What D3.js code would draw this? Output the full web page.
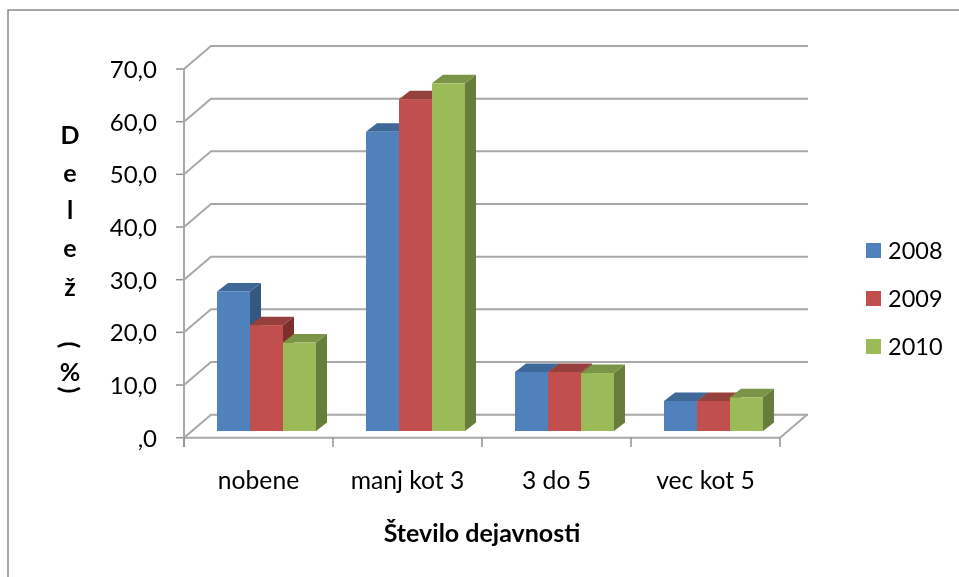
<!DOCTYPE html>
<html><head><meta charset="utf-8">
<script src="https://cdn.jsdelivr.net/npm/d3@7"></script>
<style>html,body{margin:0;padding:0;background:#fff}svg{display:block}text{font-family:Lato,"Open Sans","Noto Sans",sans-serif;fill:#000}</style>
</head><body><svg id="c" width="959" height="577"></svg>
<script>
const categories = ["nobene","manj kot 3","3 do 5","vec kot 5"];
const seriesNames = ["2008","2009","2010"];
const v2008 = [26.5,56.8,11.2,5.7];
const v2009 = [20.1,63.0,11.2,5.7];
const v2010 = [16.8,66.0,11.0,6.4];
const seriesValues = [v2008,v2009,v2010];
const front = ["#4f81bd","#c0504d","#9bbb59"];
const top3 = ["#3e6797","#963f3d","#7a9547"];
const side = ["#355880","#7f2f2e","#667d3b"];
const yTicks = [0,10,20,30,40,50,60,70];
const yTitle = [["D",135],["e",173],["l",210],["e",248],["ž",287],["%",372]];

const svg = d3.select("#c");
const defs = svg.append("defs");
defs.append("filter").attr("id","soft").append("feGaussianBlur").attr("stdDeviation",0.55);
const g = svg.append("g").attr("filter","url(#soft)");

const y = d3.scaleLinear().domain([0,70]).range([437.7,69]);
const x0 = d3.scaleBand().domain(categories).range([184,780]);
const barW = 33, dx = 27, dy = 23, bdx = 11, bdy = 8.5, baseShift = 6.7, barOff = 33;

g.append("rect").attr("x",8).attr("y",10).attr("width",960).attr("height",600)
 .attr("fill","#fff").attr("stroke","#8a8a8a").attr("stroke-width",1.5);

yTicks.forEach(t=>{
  g.append("path").attr("d",`M184,${y(t)}L${184+dx},${y(t)-dy}L${184+dx+597},${y(t)-dy}`)
   .attr("fill","none").attr("stroke","#a8a8a8").attr("stroke-width",2);
  g.append("line").attr("x1",176).attr("x2",184).attr("y1",y(t)).attr("y2",y(t)).attr("stroke","#909090").attr("stroke-width",1.5);
  g.append("text").attr("x",157).attr("y",y(t)+9).attr("text-anchor","end").attr("font-size",24).text((t?t:"")+",0");
});
g.append("line").attr("x1",184).attr("x2",184).attr("y1",69).attr("y2",447).attr("stroke","#a8a8a8").attr("stroke-width",2);
g.append("path").attr("d",`M184,${y(0)}L780,${y(0)}L${780+dx},${y(0)-dy}`).attr("fill","none").attr("stroke","#a8a8a8").attr("stroke-width",2);
d3.range(0,5).forEach(i=>{
  const px = 184 + i*149;
  g.append("line").attr("x1",px).attr("x2",px).attr("y1",y(0)).attr("y2",447).attr("stroke","#909090").attr("stroke-width",1.5);
});

categories.forEach((c,i)=>{
  const start = x0(c)+barOff;
  seriesValues.forEach((s,k)=>{
    const xl = start+k*barW, xr = xl+barW, b = y(0)-baseShift, t = y(s[i])-baseShift;
    g.append("path").attr("d",`M${xr},${t}L${xr+bdx},${t-bdy}L${xr+bdx},${b-bdy}L${xr},${b}Z`).attr("fill",side[k]);
    g.append("path").attr("d",`M${xl},${t}L${xl+bdx},${t-bdy}L${xr+bdx},${t-bdy}L${xr},${t}Z`).attr("fill",top3[k]);
    g.append("rect").attr("x",xl).attr("y",t).attr("width",barW).attr("height",b-t).attr("fill",front[k]);
  });
  g.append("text").attr("x",x0(c)+x0.bandwidth()/2).attr("y",489).attr("text-anchor","middle").attr("font-size",24.7).text(c);
});

yTitle.forEach(([ch,cy])=>{
  g.append("text").attr("x",70).attr("y",cy+9).attr("text-anchor","middle").attr("font-size",25).attr("font-weight",700).text(ch);
});
[["(",345],[")",390]].forEach(([ch,cy])=>{
  g.append("text").attr("transform",`translate(70,${cy}) rotate(90)`).attr("text-anchor","middle").attr("dy",9).attr("font-size",25).attr("font-weight",700).text(ch);
});
g.append("text").attr("x",482).attr("y",542).attr("text-anchor","middle").attr("font-size",25).attr("font-weight",700).text("Število dejavnosti");

seriesNames.forEach((n,k)=>{
  const ly = 243+k*48;
  g.append("rect").attr("x",866).attr("y",ly).attr("width",15).attr("height",15).attr("fill",front[k]);
  g.append("text").attr("x",888).attr("y",ly+15.5).attr("font-size",23.5).text(n);
});
</script></body></html>
